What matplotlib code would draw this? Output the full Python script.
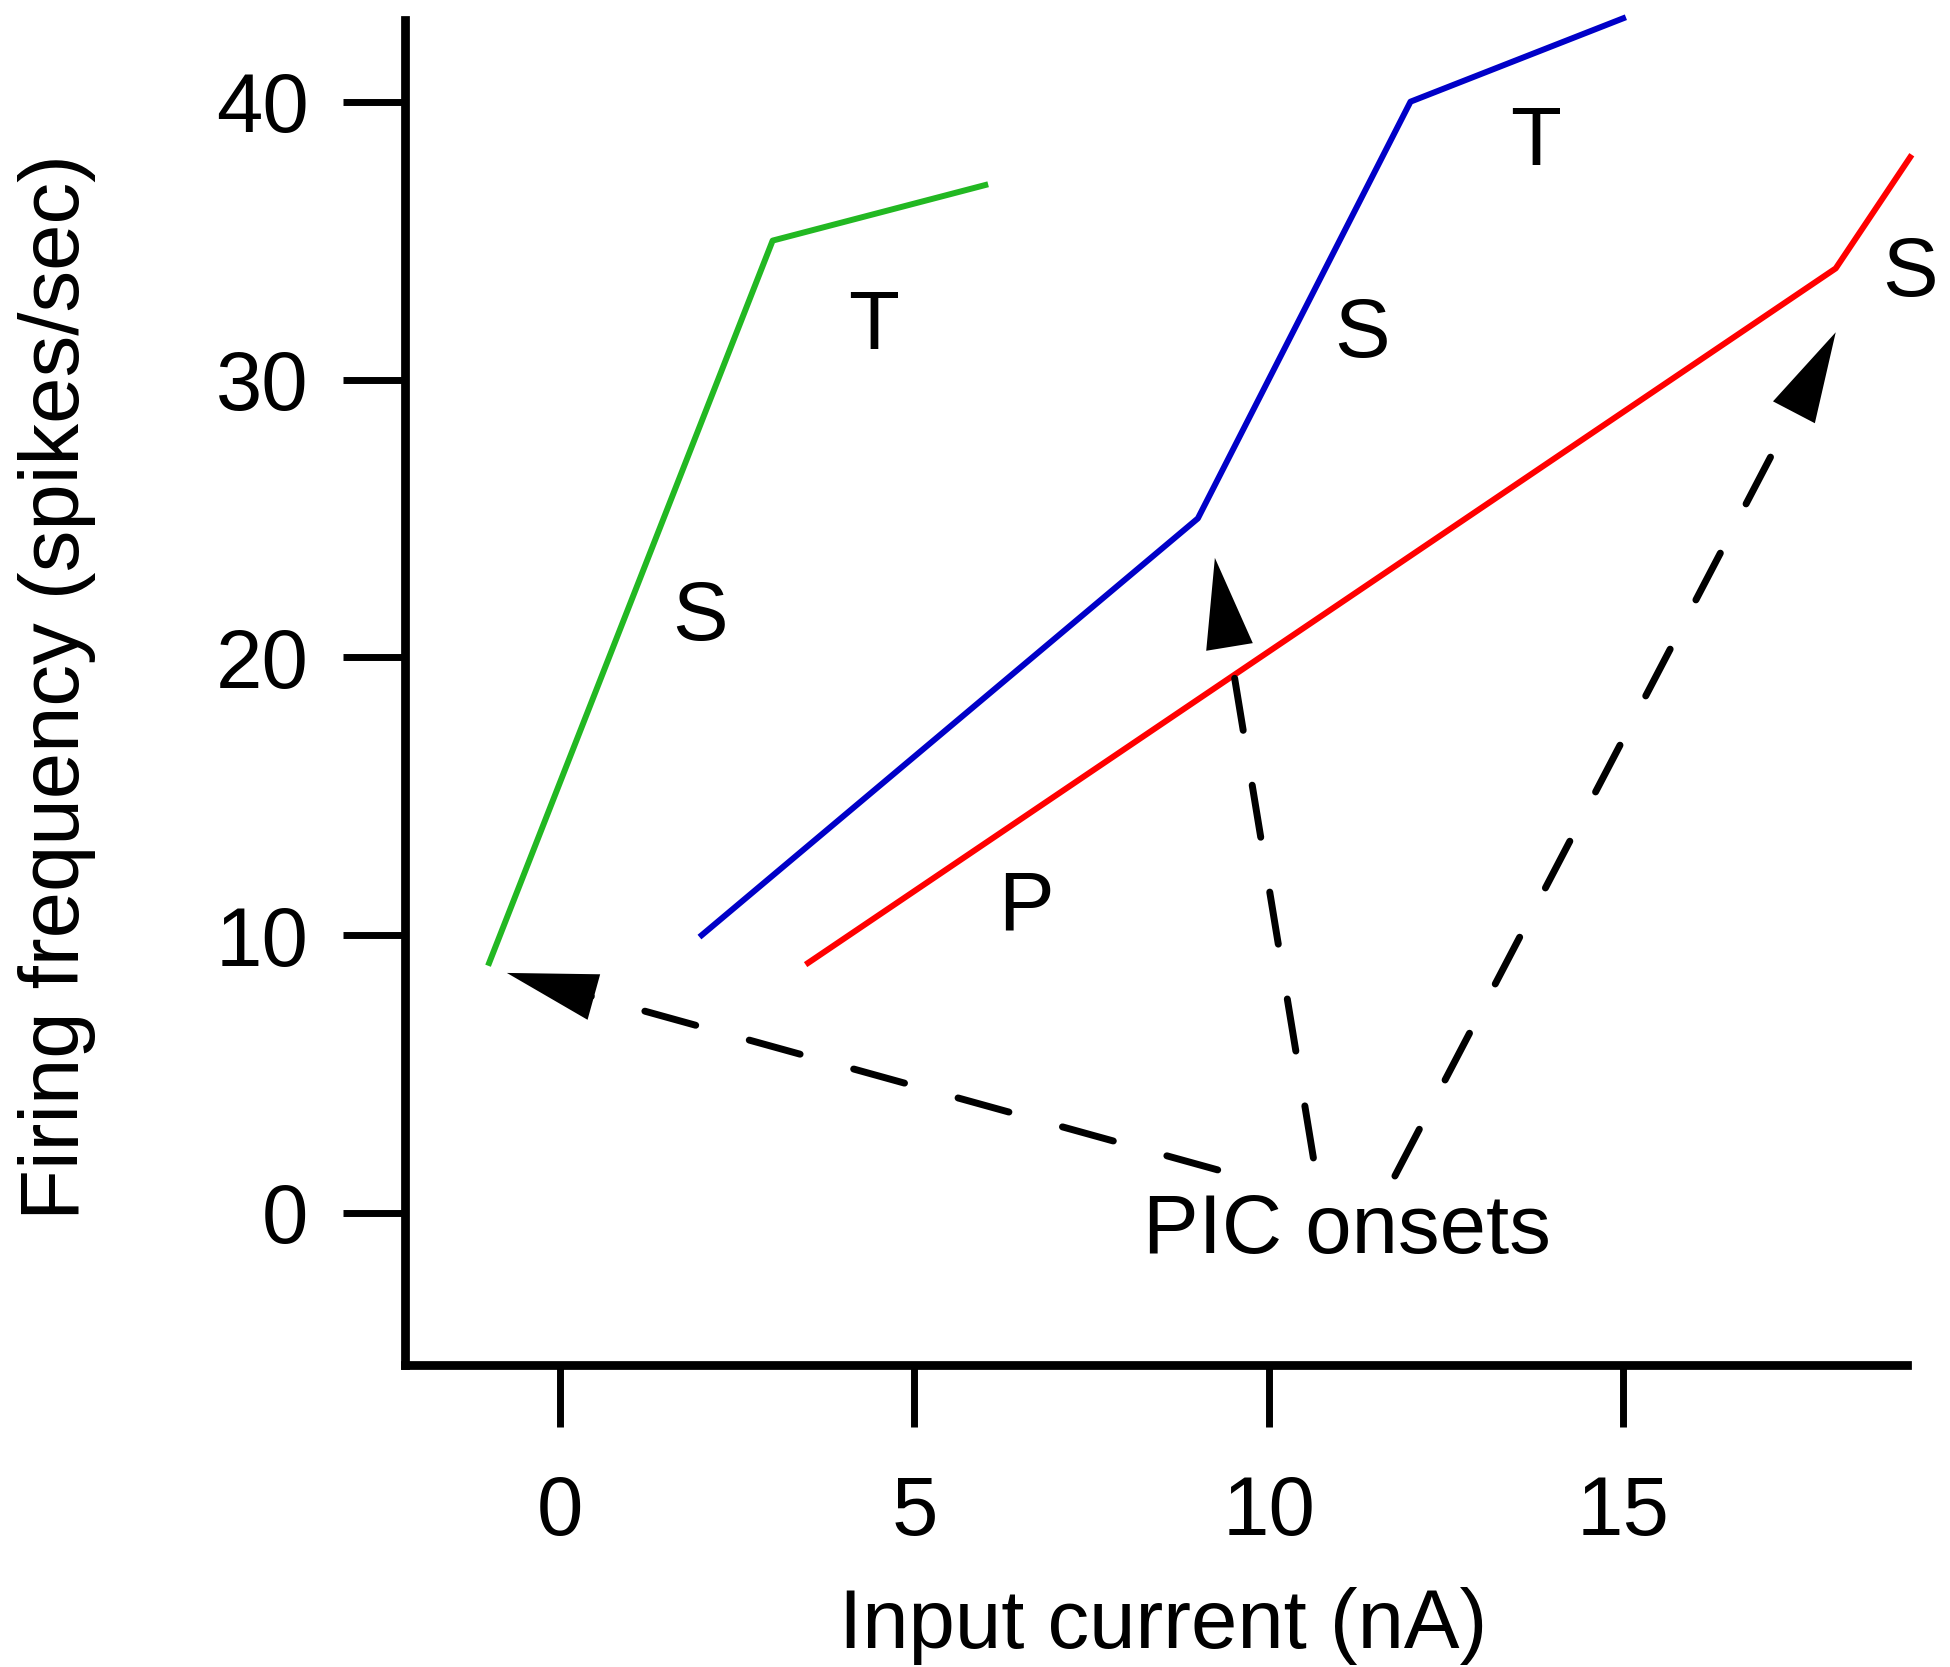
import matplotlib
matplotlib.use("Agg")
import matplotlib.pyplot as plt

plt.rcParams['font.family'] = ['Liberation Sans', 'DejaVu Sans']

# f-I curves (input current nA, firing frequency spikes/sec)
green_x = [-1.0, 3.0, 6.0]
green_y = [9.0, 35.0, 37.0]
blue_x = [2.0, 9.0, 12.0, 15.0]
blue_y = [10.0, 25.0, 40.0, 43.0]
red_x = [3.5, 18.0, 19.05]
red_y = [9.0, 34.0, 38.0]

# segment labels
label_text = ['S', 'T', 'S', 'T', 'P', 'S']
label_x = [1.98, 4.42, 11.31, 13.77, 6.58, 19.05]
label_y = [21.4, 31.9, 31.6, 38.5, 11.0, 33.8]

# "PIC onsets" arrows: tail -> tip
arrow_tail_x = [9.28, 10.63, 11.78]
arrow_tail_y = [1.55, 1.98, 1.33]
arrow_tip_x = [-0.75, 9.24, 18.0]
arrow_tip_y = [8.64, 23.58, 31.7]

x_ticks = [0, 5, 10, 15]
y_ticks = [0, 10, 20, 30, 40]

FS = 60
LW = 4.3

fig = plt.figure(figsize=(19.5, 16.67), dpi=100)
ax = fig.add_axes([0.2077, 0.1812, 0.7703, 0.8068])

ax.plot(green_x, green_y, color='#22b822', lw=LW, solid_joinstyle='round', clip_on=False)
ax.plot(blue_x, blue_y, color='#0000c8', lw=LW, solid_joinstyle='round', clip_on=False)
ax.plot(red_x, red_y, color='#ff0000', lw=LW, solid_joinstyle='round', clip_on=False)

for t, x, y in zip(label_text, label_x, label_y):
    ax.text(x, y, t, fontsize=FS, ha='center', va='center')

ax.text(11.1, -0.65, 'PIC onsets', fontsize=FS, ha='center', va='center')

for tx, ty, hx, hy in zip(arrow_tail_x, arrow_tail_y, arrow_tip_x, arrow_tip_y):
    # dashed shaft, stopped short of the head
    ax.annotate('', xy=(hx, hy), xytext=(tx, ty),
                arrowprops=dict(arrowstyle='-', color='black', lw=5,
                                linestyle=(0, (7.6, 8.0)),
                                shrinkA=0, shrinkB=52))
    # solid filled head
    ax.annotate('', xy=(hx, hy), xytext=(tx, ty),
                arrowprops=dict(arrowstyle='-|>,head_length=0.65,head_width=0.17',
                                mutation_scale=100, color='black', lw=0,
                                shrinkA=0, shrinkB=0))

ax.set_xlim(-2.187, 19.007)
ax.set_ylim(-5.47, 42.94)

ax.set_xticks(x_ticks)
ax.set_yticks(y_ticks)
ax.spines['top'].set_visible(False)
ax.spines['right'].set_visible(False)
for s in ['left', 'bottom']:
    ax.spines[s].set_linewidth(6.3)
ax.tick_params(axis='both', direction='out', length=44.5, width=5, labelsize=FS)
ax.tick_params(axis='x', pad=34)
ax.tick_params(axis='y', pad=25)

ax.set_xlabel('Input current (nA)', fontsize=FS)
ax.set_ylabel('Firing frequency (spikes/sec)', fontsize=FS)
ax.xaxis.set_label_coords(0.505, -0.165)
ax.yaxis.set_label_coords(-0.206, 0.504)

fig.savefig('out.png', dpi=100)
